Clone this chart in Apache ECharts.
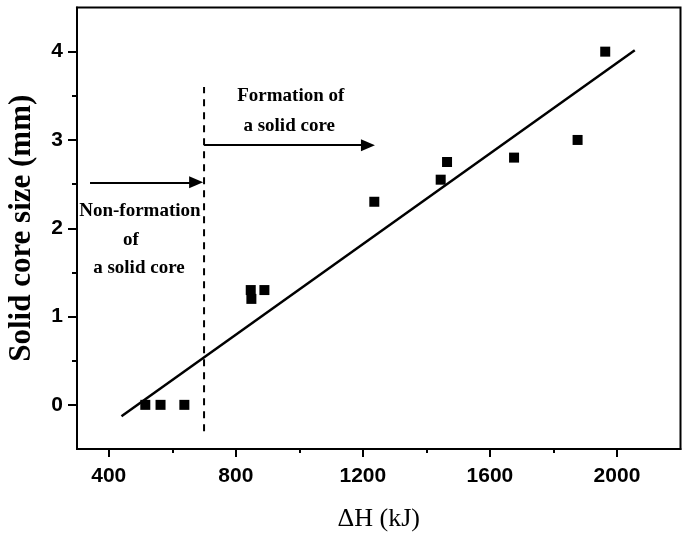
<!DOCTYPE html>
<html>
<head>
<meta charset="utf-8">
<script src="https://cdn.jsdelivr.net/npm/echarts@6/dist/echarts.min.js"></script>
<style>html,body{margin:0;padding:0;background:#fff}#c{width:686px;height:533px}</style>
</head>
<body>
<div id="c"></div>
<script>
// ---- data ----
var pointsX = [515, 563, 638, 847, 849, 890, 1236, 1445, 1465, 1676, 1876, 1963];
var pointsY = [0, 0, 0, 1.3, 1.2, 1.3, 2.3, 2.55, 2.75, 2.8, 3.0, 4.0];
var fitLineX = [440, 2056];
var fitLineY = [-0.13, 4.015];
var boundaryX = [700, 700];
var boundaryY = [-0.3, 3.6];
var arrowNonX = [341, 675];
var arrowNonY = [2.52, 2.52];
var arrowFormX = [700, 1216];
var arrowFormY = [2.94, 2.94];
var xMajorTicks = [400, 800, 1200, 1600, 2000];
var xMinorTicks = [600, 1000, 1400, 1800];
var yMajorTicks = [0, 1, 2, 3, 4];
var yMinorTicks = [0.5, 1.5, 2.5, 3.5];
var annoText = ['Formation of', 'a solid core', 'Non-formation', 'of', 'a solid core'];
var annoX = [973, 968, 498, 470, 495];
var annoY = [3.495, 3.16, 2.19, 1.87, 1.55];

function zip(a, b) { return a.map(function (v, i) { return [v, b[i]]; }); }

var chart = echarts.init(document.getElementById('c'));
var serif = '"Liberation Serif", "Times New Roman", serif';
var sans = '"Liberation Sans", Arial, sans-serif';
function plain(v) { return String(v); }

var baseX = { type: 'value', min: 300, max: 2200, splitLine: { show: false } };
var baseY = { type: 'value', min: -0.5, max: 4.5, splitLine: { show: false } };

chart.setOption({
  animation: false,
  backgroundColor: '#fff',
  grid: { left: 77, right: 5.5, top: 7.5, bottom: 84, containLabel: false, outerBoundsMode: 'none', show: true, borderColor: '#000', borderWidth: 2, backgroundColor: 'transparent' },
  xAxis: [
    Object.assign({}, baseX, {
      position: 'bottom',
      axisLine: { show: true, onZero: false, lineStyle: { color: '#000', width: 2 } },
      axisTick: { show: true, inside: false, length: 8, customValues: xMajorTicks, lineStyle: { color: '#000', width: 2 } },
      axisLabel: { show: true, customValues: xMajorTicks, formatter: plain, margin: 17, color: '#000', fontFamily: sans, fontWeight: 'bold', fontSize: 21 },
      name: 'ΔH (kJ)', nameLocation: 'middle', nameGap: 57,
      nameTextStyle: { fontFamily: serif, fontSize: 26, color: '#000' }
    }),
    Object.assign({}, baseX, {
      position: 'bottom',
      axisLine: { show: false, onZero: false },
      axisTick: { show: true, inside: false, length: 4, customValues: xMinorTicks, lineStyle: { color: '#000', width: 2 } },
      axisLabel: { show: false }
    })
  ],
  yAxis: [
    Object.assign({}, baseY, {
      position: 'left',
      axisLine: { show: true, onZero: false, lineStyle: { color: '#000', width: 2 } },
      axisTick: { show: true, inside: false, length: 9, customValues: yMajorTicks, lineStyle: { color: '#000', width: 2 } },
      axisLabel: { show: true, customValues: yMajorTicks, formatter: plain, margin: 14, color: '#000', fontFamily: sans, fontWeight: 'bold', fontSize: 21 },
      name: 'Solid core size (mm)', nameLocation: 'middle', nameGap: 40,
      nameTextStyle: { fontFamily: serif, fontWeight: 'bold', fontSize: 31, color: '#000' }
    }),
    Object.assign({}, baseY, {
      position: 'left',
      axisLine: { show: false, onZero: false },
      axisTick: { show: true, inside: false, length: 5, customValues: yMinorTicks, lineStyle: { color: '#000', width: 2 } },
      axisLabel: { show: false }
    })
  ],
  series: [
    {
      type: 'line', data: zip(fitLineX, fitLineY), symbol: 'none',
      lineStyle: { color: '#000', width: 2.5 }, z: 2
    },
    {
      type: 'line', data: zip(boundaryX, boundaryY), symbol: 'none',
      lineStyle: { color: '#000', width: 2, type: [7, 6] }, z: 2
    },
    {
      type: 'scatter', data: zip(pointsX, pointsY), symbol: 'rect', symbolSize: 10,
      itemStyle: { color: '#000', opacity: 1 }, z: 3
    },
    {
      type: 'scatter', data: [], symbolSize: 0,
      markLine: {
        silent: true, animation: false,
        symbol: ['none', 'triangle'], symbolSize: [12, 14],
        lineStyle: { color: '#000', width: 2, type: 'solid' },
        label: { show: false },
        data: [
          [{ coord: [arrowNonX[0], arrowNonY[0]] }, { coord: [arrowNonX[1], arrowNonY[1]] }],
          [{ coord: [arrowFormX[0], arrowFormY[0]] }, { coord: [arrowFormX[1], arrowFormY[1]] }]
        ]
      }
    },
    {
      type: 'scatter', symbol: 'circle', symbolSize: 1, z: 4,
      itemStyle: { color: 'rgba(255,255,255,0)', opacity: 1 },
      data: annoText.map(function (t, i) { return { value: [annoX[i], annoY[i]], name: t }; }),
      label: {
        show: true, position: 'inside', formatter: function (p) { return p.name; },
        fontFamily: serif, fontWeight: 'bold', fontSize: 19, color: '#000', opacity: 1
      }
    }
  ]
});
</script>
</body>
</html>
